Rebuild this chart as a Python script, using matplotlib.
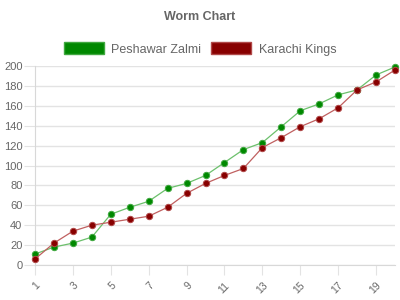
import numpy as np
import matplotlib.pyplot as plt
from matplotlib.patches import Patch

plt.rcParams['font.family'] = ['Liberation Sans', 'DejaVu Sans']

overs = list(range(1, 21))
peshawar = [11, 18, 22, 28, 51, 58, 64, 77, 82, 90,
            103, 116, 123, 139, 155, 162, 171, 176, 191, 199]
karachi = [6, 22, 34, 40, 43, 46, 49, 58, 72, 82,
           90, 97, 118, 128, 139, 147, 158, 176, 184, 196]
x_labels = [str(i) for i in overs]

grid_c = '#e3e3e3'
text_c = '#666666'

fig = plt.figure(figsize=(4, 3), dpi=100)
ax = fig.add_axes([35/400, 1 - 265/300, 360/400, 199/300])

ax.plot(overs, peshawar, color='#6cc06c', lw=0.9, marker='o', ms=4.6,
        mfc='#008800', mec='#40a840', mew=0.7, zorder=3, clip_on=False)
ax.plot(overs, karachi, color='#c06060', lw=0.9, marker='o', ms=4.6,
        mfc='#880000', mec='#b04848', mew=0.7, zorder=3, clip_on=False)

ax.set_xlim(1, 20)
ax.set_ylim(0, 200)
ax.set_yticks(range(0, 201, 20))
ax.set_xticks(overs[::2])
ax.set_xticklabels(x_labels[::2], rotation=45, ha='right', va='top',
                   rotation_mode='anchor', fontsize=7.5, color=text_c)
ax.tick_params(axis='y', labelsize=8, colors=text_c, length=8, color=grid_c, pad=1)
ax.tick_params(axis='x', length=7, color=grid_c, pad=4)
ax.grid(axis='y', color=grid_c, lw=1)
ax.set_axisbelow(True)
for s in ['top', 'right']:
    ax.spines[s].set_visible(False)
for s in ['left', 'bottom']:
    ax.spines[s].set_color('#d8d8d8')

fig.text(0.5, 1 - 17/300, 'Worm Chart', ha='center', va='center',
         fontsize=9, fontweight='bold', color=text_c)

handles = [Patch(facecolor='#008800', edgecolor='#40a840', label='Peshawar Zalmi'),
           Patch(facecolor='#880000', edgecolor='#b04848', label='Karachi Kings')]
fig.legend(handles=handles, loc='center', bbox_to_anchor=(0.5, 1 - 49/300),
           ncol=2, frameon=False, fontsize=9, handlelength=3.2, handleheight=1.1,
           columnspacing=0.8, handletextpad=0.6, labelcolor=text_c)

fig.savefig('out.png', dpi=100)
